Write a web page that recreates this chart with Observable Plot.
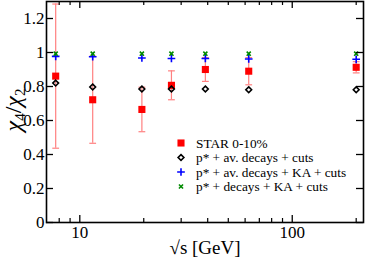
<!DOCTYPE html>
<html><head><meta charset="utf-8">
<script src="https://cdn.jsdelivr.net/npm/d3@7"></script>
<script src="https://cdn.jsdelivr.net/npm/@observablehq/plot@0.6"></script>
<style>html,body{margin:0;padding:0;background:#fff}</style>
</head><body><div id="chart"></div>
<script>
const energies = [7.7, 11.5, 19.6, 27, 39, 62.4, 200];
const starVals = [0.861, 0.722, 0.665, 0.807, 0.900, 0.890, 0.913];
const starErr = [0.424, 0.256, 0.131, 0.085, 0.07, 0.08, 0.033];
const avDecays = [0.820, 0.797, 0.785, 0.785, 0.785, 0.781, 0.781];
const avDecaysKA = [0.977, 0.975, 0.968, 0.965, 0.965, 0.962, 0.960];
const decaysKA = [0.993, 0.993, 0.993, 0.993, 0.993, 0.993, 0.993];
const legendLabels = ["STAR 0-10%", "p* + av. decays + cuts", "p* + av. decays + KA + cuts", "p* + decays + KA + cuts"];
const xMajor = [10, 100];
const xMinor = [8, 9, 20, 30, 40, 50, 60, 70, 80, 90, 200];
const yTicks = [0, 0.2, 0.4, 0.6, 0.8, 1.0, 1.2];

const star = energies.map((e, i) => ({x: e, y: starVals[i], lo: starVals[i] - starErr[i], hi: starVals[i] + starErr[i]}));
const mk = (vals) => energies.map((e, i) => ({x: e, y: vals[i]}));

const capSymbol = {draw(ctx, size) { ctx.moveTo(-3.4, 0); ctx.lineTo(3.4, 0); }};
const W = 366, H = 263, ML = 46, MR = 3, MT = 1, MB = 41;
const fw = W - ML - MR, fh = H - MT - MB;
const red = "#ff0000", errRed = "#ff8080", blue = "#0000ff", green = "#008a00";
const rSq = 4, rDia = 2.6, rPlus = 2.6, rTimes = 2.0;

const chart = Plot.plot({
  width: W, height: H,
  marginLeft: ML, marginRight: MR, marginTop: MT, marginBottom: MB,
  x: {type: "log", domain: [6.97, 216.5]},
  y: {domain: [0, 1.3]},
  style: {fontFamily: "'Liberation Serif', 'Times New Roman', serif", background: "white", color: "black"},
  marks: [
    Plot.ruleX(star, {x: "x", y1: "lo", y2: "hi", stroke: errRed, strokeWidth: 1.2}),
    Plot.dot(star, {x: "x", y: "lo", symbol: capSymbol, stroke: errRed, strokeWidth: 1.2, r: 3}),
    Plot.dot(star, {x: "x", y: "hi", symbol: capSymbol, stroke: errRed, strokeWidth: 1.2, r: 3}),
    Plot.dot(star, {x: "x", y: "y", symbol: "square", fill: red, r: rSq}),
    Plot.dot(mk(avDecays), {x: "x", y: "y", symbol: "diamond2", stroke: "black", strokeWidth: 1.6, fill: "none", r: rDia}),
    Plot.dot(mk(avDecaysKA), {x: "x", y: "y", symbol: "plus", stroke: blue, strokeWidth: 1.6, r: rPlus}),
    Plot.dot(mk(decaysKA), {x: "x", y: "y", symbol: "times", stroke: green, strokeWidth: 1.6, r: rTimes}),
    Plot.ruleX(xMajor, {insetTop: fh - 7, stroke: "black", strokeWidth: 1.3}),
    Plot.ruleX(xMajor, {insetBottom: fh - 7, stroke: "black", strokeWidth: 1.3}),
    Plot.ruleX(xMinor, {insetTop: fh - 4, stroke: "black", strokeWidth: 1.2}),
    Plot.ruleX(xMinor, {insetBottom: fh - 4, stroke: "black", strokeWidth: 1.2}),
    Plot.ruleY(yTicks, {insetRight: fw - 7, stroke: "black", strokeWidth: 1.3}),
    Plot.ruleY(yTicks, {insetLeft: fw - 7, stroke: "black", strokeWidth: 1.3}),
    Plot.frame({stroke: "black", strokeWidth: 1.6}),
    Plot.axisX({ticks: xMajor, tickSize: 0, tickPadding: 3, fontSize: 17, label: null, tickFormat: d => String(d)}),
    Plot.axisY({ticks: yTicks, tickSize: 0, tickPadding: 2, fontSize: 17, label: null, tickFormat: d3.format("~g")}),
    Plot.text(["√s [GeV]"], {frameAnchor: "bottom", dy: 31, fontSize: 19, text: d => d})
  ]
});
document.getElementById("chart").appendChild(chart);

const svg = d3.select(chart);
// y axis label with subscripts
const yl = svg.append("text")
  .attr("transform", "translate(21,110) rotate(-90)")
  .attr("text-anchor", "middle")
  .attr("font-size", 24)
  .attr("font-style", "italic")
  .attr("fill", "black");
yl.append("tspan").text("χ");
yl.append("tspan").attr("font-size", 15).attr("font-style", "normal").attr("dy", 4).text("4");
yl.append("tspan").attr("font-style", "normal").attr("dy", -4).text("/");
yl.append("tspan").text("χ");
yl.append("tspan").attr("font-size", 15).attr("font-style", "normal").attr("dy", 4).text("2");

// legend
const legendSyms = [
  {type: d3.symbolSquare, r: rSq, fill: red, stroke: "none"},
  {type: d3.symbolDiamond2, r: rDia, fill: "none", stroke: "black"},
  {type: d3.symbolPlus, r: rPlus, fill: "none", stroke: blue},
  {type: d3.symbolTimes, r: rTimes, fill: "none", stroke: green}
];
const lg = svg.append("g").attr("font-size", 13.3).attr("text-anchor", "start");
legendLabels.forEach((lab, i) => {
  const y = 143 + i * 14.5;
  const s = legendSyms[i];
  lg.append("path")
    .attr("transform", `translate(181,${y})`)
    .attr("d", d3.symbol(s.type, Math.PI * s.r * s.r)())
    .attr("fill", s.fill).attr("stroke", s.stroke).attr("stroke-width", 1.6);
  lg.append("text").attr("x", 196).attr("y", y).attr("dy", "0.35em").attr("text-anchor", "start").attr("fill", "black").text(lab);
});
</script></body></html>
